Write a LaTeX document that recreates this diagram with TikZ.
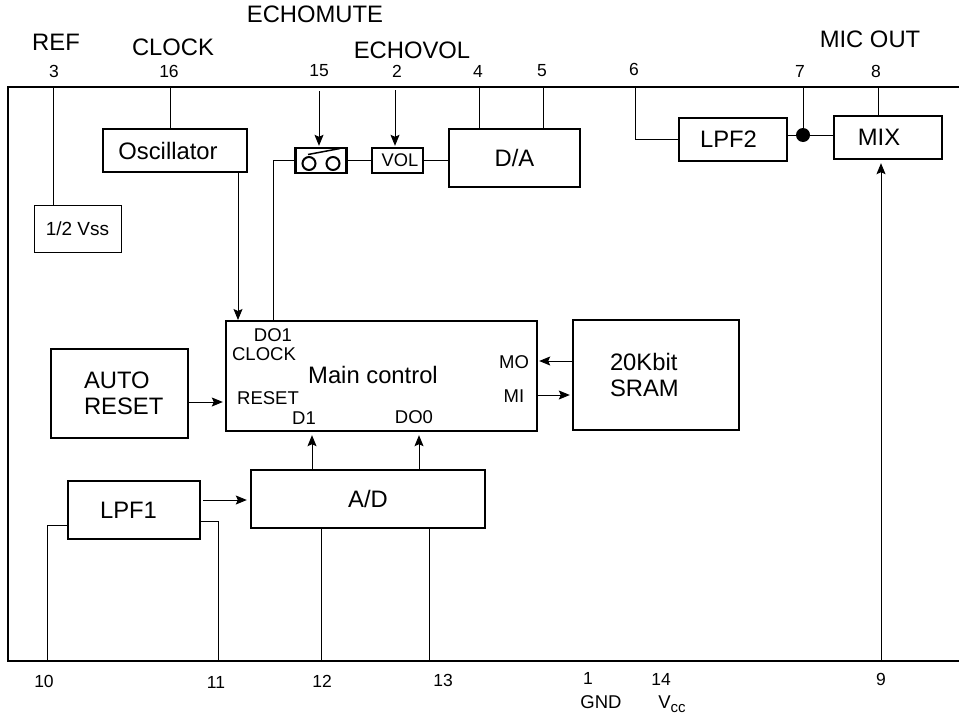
\documentclass[tikz,border=0pt]{standalone}
\usepackage{fontspec}
\setmainfont{Liberation Sans}
\usetikzlibrary{arrows.meta,calc}
\tikzset{
  blk/.style={draw,line width=2.4pt,inner sep=0pt,fill=white,font=\fontsize{23.8}{26}\selectfont},
  thinblk/.style={draw,line width=.7pt,inner sep=0pt,font=\fontsize{19}{22}\selectfont},
  lbl/.style={inner sep=0pt,font=\fontsize{23.8}{26}\selectfont},
  pinlbl/.style={inner sep=0pt,font=\fontsize{17.5}{20}\selectfont},
  sig/.style={inner sep=0pt,font=\fontsize{18.5}{21}\selectfont},
  wire/.style={line width=1pt},
  bus/.style={line width=1.9pt},
  arr/.style={line width=.9pt,-{Stealth[length=11pt,width=9pt,inset=2pt]}},
}
\begin{document}
\begin{tikzpicture}[x=1pt,y=-1pt]
\useasboundingbox (0,0) rectangle (959,715);
\coordinate (tr) at (959,87); \coordinate (tl) at (8,87); \coordinate (bl) at (8,661); \coordinate (br) at (959,661);
\draw[line width=2.4pt] (tr)--(tl)--(bl)--(br);
% blocks
\node[blk,minimum width=144pt,minimum height=43pt] (osc) at (175,150.5) {Oscillator\kern14pt};
\node[thinblk,minimum width=87pt,minimum height=47pt] (vss) at (77.5,228.5) {1/2 Vss};
\node[blk,minimum width=51pt,minimum height=25pt] (sw) at (321,160.5) {};
\node[blk,minimum width=51pt,minimum height=25pt,font=\fontsize{18.3}{20}\selectfont] (vol) at (397.5,160.5) {\kern5pt VOL};
\node[blk,minimum width=131pt,minimum height=58pt] (da) at (514.5,158) {D/A};
\node[blk,minimum width=108pt,minimum height=43pt] (lpftwo) at (733,139.5) {LPF2\kern9pt};
\node[blk,minimum width=108pt,minimum height=43pt] (mix) at (888,137.5) {MIX\kern18pt};
\node[blk,minimum width=311pt,minimum height=110pt] (main) at (381.5,376) {\raisebox{3pt}{Main control}\kern17pt};
\node[blk,minimum width=166pt,minimum height=110pt,text width=92pt,align=left] (sram) at (656,375) {20Kbit\\SRAM};
\node[blk,minimum width=137pt,minimum height=89pt,text width=71pt,align=left] (auto) at (119.5,393.5) {AUTO\\RESET};
\node[blk,minimum width=132pt,minimum height=58pt] (lpfone) at (134,510) {LPF1\kern11pt};
\node[blk,minimum width=234pt,minimum height=58pt] (ad) at (368,499) {A/D};
\node[circle,fill,inner sep=0pt,minimum size=14pt] (dot) at (803,135) {};
% switch symbol
\draw[line width=2pt] (sw.center)++(-12,3) circle (6.5);
\draw[line width=2pt] (sw.center)++(12,3) circle (6.5);
\draw[line width=1.5pt] ($(sw.center)+(-13,-6)$)--($(sw.center)+(19,-12)$);
% pins
\foreach \p/\x/\lx/\ly in {3/53/54/71,16/170/169/71,15/319/319/71,2/395/397/71,4/479/478/71,5/543/542/71,6/635/634/69,7/803/800/71,8/878/876/71}{
  \coordinate (f\p) at (\x,87);
  \node[pinlbl] (n\p) at (\lx,\ly) {\p};
}
\foreach \p/\x/\lx/\ly in {10/47/44/681,11/218/216/682,12/321/322/681,13/429/443/680,9/881/881/679}{
  \coordinate (f\p) at (\x,661);
  \node[pinlbl] (n\p) at (\lx,\ly) {\p};
}
\node[pinlbl] (n1) at (588,678) {1};
\node[pinlbl] (n14) at (661,679) {14};
\node[sig] (gnd) at (601,702) {GND};
\node[sig] (vcc) at (672,704) {V\raisebox{-4pt}{\fontsize{15}{17}\selectfont cc}};
\node[lbl] (ref) at (56,42) {REF};
\node[lbl] (clock) at (173,47) {CLOCK};
\node[lbl] (emute) at (315,14) {ECHOMUTE};
\node[lbl] (evol) at (412,50) {ECHOVOL};
\node[lbl] (micout) at (870,39) {MIC OUT};
% signals in main control
\node[sig] (dob) at (273,335) {DO1};
\node[sig] (clk) at (264,354) {CLOCK};
\node[sig] (rst) at (268,398) {RESET};
\node[sig] (done) at (304,418) {D1};
\node[sig] (dozero) at (414,417) {DO0};
\node[sig] (mo) at (514,362) {MO};
\node[sig] (mi) at (514,396) {MI};
% wires
\draw[wire] (f3)--(f3 |- vss.north);
\draw[wire] (f16)--(f16 |- osc.north);
\draw[wire] (f4)--(f4 |- da.north);
\draw[wire] (f5)--(f5 |- da.north);
\draw[wire] (f6)|-(lpftwo.west);
\draw[wire] (f7)--(dot);
\draw[wire] (f8)--(f8 |- mix.north);
\draw[wire] (dot)--(dot -| lpftwo.east);
\draw[wire] (dot)--(dot -| mix.west);
\draw[arr,shorten <=4pt,shorten >=1pt] (f15)--(f15 |- sw.north);
\draw[arr,shorten <=3pt,shorten >=1pt] (f2)--(f2 |- vol.north);
\draw[bus] (sw)--(vol);
\draw[bus] (vol)--(vol -| da.west);
\coordinate (swin) at (273,321);
\draw[wire] (swin)|-(sw.west);
\draw[arr,shorten >=1pt] (osc.south -| 238,0)--(238,321);
\draw[arr,shorten >=2pt] (auto.east |- 0,402)--(main.west |- 0,402);
\draw[arr,shorten >=1pt] (sram.west |- 0,361)--(main.east |- 0,361);
\draw[arr,shorten >=2pt] (main.east |- 0,395)--(sram.west |- 0,395);
\draw[arr,shorten >=3pt] (ad.north -| 312,0)--(main.south -| 312,0);
\draw[arr,shorten >=3pt] (ad.north -| 419,0)--(main.south -| 419,0);
\draw[arr,shorten <=2pt,shorten >=3pt] (lpfone.east |- 0,500)--(ad.west |- 0,500);
\draw[wire] (f10)|-(lpfone.west |- 0,525);
\draw[wire] (f11)|-(lpfone.east |- 0,521);
\draw[wire] (f12)--(f12 |- ad.south);
\draw[wire] (f13)--(f13 |- ad.south);
\draw[arr,shorten >=3pt] (f9)--(f9 |- mix.south);
\end{tikzpicture}
\end{document}
